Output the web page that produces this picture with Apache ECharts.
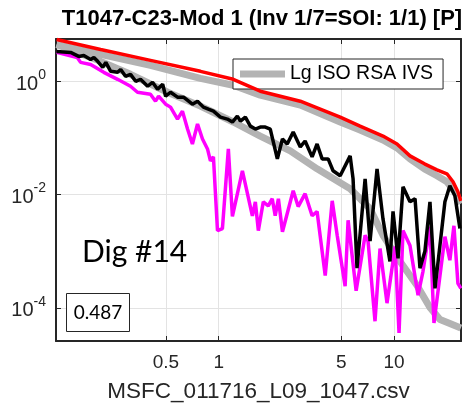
<!DOCTYPE html>
<html><head><meta charset="utf-8">
<script src="https://cdn.jsdelivr.net/npm/echarts@6/dist/echarts.min.js"></script>
<style>html,body{margin:0;padding:0;background:#fff}#c{width:462px;height:408px}</style>
</head><body><div id="c"></div>
<script>
const titleText = 'T1047-C23-Mod 1 (Inv 1/7=SOI: 1/1) [P]';
const xName = 'MSFC_011716_L09_1047.csv';
const legendName = 'Lg ISO RSA IVS';
const xTicks = [0.5, 1, 5, 10];
const yTicks = [1e-4, 1e-2, 1];

const redFreq = [0.119, 0.212, 0.408, 0.787, 1.21, 1.726, 2.92, 4.93, 6.40, 8.65, 10.40, 12.33, 14.92, 17.57, 20.03, 21.7, 23.14, 24.06];
const redVal  = [5.39, 3.60, 2.31, 1.48, 1.07, 0.660, 0.440, 0.231, 0.160, 0.107, 0.0775, 0.0478, 0.0346, 0.0271, 0.0231, 0.0167, 0.0111, 0.0077];

const upGrayFreq = [0.119, 0.212, 0.408, 0.787, 1.21, 1.726, 2.92, 4.93, 6.40, 8.65, 10.40, 12.33, 14.92, 17.57, 20.03, 22.24, 24.06];
const upGrayVal  = [4.40, 2.94, 1.88, 1.11, 0.841, 0.561, 0.375, 0.189, 0.136, 0.0912, 0.066, 0.0423, 0.0282, 0.0213, 0.0167, 0.0111, 0.0069];

const loGrayFreq = [0.119, 0.212, 0.314, 0.511, 0.787, 1.21, 1.726, 2.56, 3.64, 5.62, 7.30, 8.65, 10.8, 13.5, 16.03, 18.28, 20.82, 24.06];
const loGrayVal  = [4.40, 2.22, 1.31, 0.633, 0.360, 0.189, 0.107, 0.0584, 0.0282, 0.0126, 0.0056, 0.0019, 0.00066, 0.00025, 0.000101, 0.0000624, 0.0000531, 0.000044];

const blackFreq = [0.119, 0.143, 0.159, 0.170, 0.186, 0.194, 0.204, 0.218, 0.227, 0.242, 0.265, 0.276, 0.294, 0.314, 0.336, 0.358, 0.393, 0.419, 0.448, 0.479, 0.498, 0.531, 0.582, 0.630, 0.708, 0.757, 0.818, 0.873, 0.933, 1.023, 1.12, 1.197, 1.277, 1.33, 1.419, 1.515, 1.618, 1.726, 1.844, 1.968, 2.16, 2.31, 2.46, 2.66, 2.92, 3.11, 3.41, 3.64, 3.89, 4.21, 4.49, 4.93, 5.62, 5.84, 6.15, 6.84, 7.30, 8.00, 8.65, 9.48, 9.87, 10.54, 11.25, 12.33, 13.18, 14.06, 15.0, 16.03, 17.13, 18.28, 19.51, 20.82, 22.24, 23.76];
const blackVal  = [3.32, 3.19, 2.71, 2.82, 2.40, 2.60, 2.22, 1.74, 2.13, 1.48, 1.42, 1.60, 1.21, 1.31, 0.988, 1.07, 0.807, 0.948, 0.715, 0.875, 0.539, 0.633, 0.518, 0.518, 0.390, 0.440, 0.346, 0.319, 0.294, 0.231, 0.213, 0.189, 0.240, 0.196, 0.231, 0.160, 0.142, 0.154, 0.154, 0.142, 0.0423, 0.095, 0.0775, 0.126, 0.0687, 0.0875, 0.0459, 0.0775, 0.0423, 0.0423, 0.0261, 0.0213, 0.0478, 0.0188, 0.00050, 0.0188, 0.0015, 0.0282, 0.0037, 0.00066, 0.0050, 0.000745, 0.0136, 0.0074, 0.0084, 0.00050, 0.00099, 0.0074, 0.00022, 0.00126, 0.0074, 0.0142, 0.0095, 0.0025];

const magFreq = [0.119, 0.156, 0.163, 0.186, 0.221, 0.265, 0.314, 0.344, 0.408, 0.436, 0.454, 0.498, 0.531, 0.582, 0.621, 0.664, 0.708, 0.757, 0.808, 0.863, 0.897, 0.933, 0.984, 1.05, 1.135, 1.197, 1.365, 1.556, 1.618, 1.683, 1.796, 1.918, 2.02, 2.10, 2.19, 2.31, 2.66, 2.84, 3.11, 3.41, 3.64, 4.05, 4.44, 4.74, 5.26, 5.47, 6.08, 6.84, 7.11, 7.79, 8.32, 9.12, 10.14, 10.68, 11.25, 12.33, 13.71, 14.63, 16.03, 16.90, 19.51, 20.82, 21.96, 23.14, 24.06];
const magVal  = [3.19, 2.60, 2.13, 1.96, 1.42, 1.07, 0.807, 0.633, 0.584, 0.440, 0.539, 0.390, 0.346, 0.213, 0.294, 0.142, 0.0775, 0.174, 0.095, 0.0634, 0.039, 0.0459, 0.0023, 0.0025, 0.0634, 0.0041, 0.0261, 0.0042, 0.0074, 0.0023, 0.0074, 0.0063, 0.0084, 0.0042, 0.0084, 0.0022, 0.0116, 0.0061, 0.0103, 0.0042, 0.0050, 0.00037, 0.0077, 0.0019, 0.00024, 0.0035, 0.00020, 0.0019, 0.0015, 0.000058, 0.00111, 0.000121, 0.00121, 0.000036, 0.0023, 0.00126, 0.000167, 0.00044, 0.0027, 0.000054, 0.0018, 0.00069, 0.0028, 0.00027, 0.00022];

const pairs = (f, v) => f.map((x, i) => [x, v[i]]);
const axisColor = '#262626';
const gridColor = '#e3e3e3';
const font = 'Liberation Sans, Arial, sans-serif';

const chart = echarts.init(document.getElementById('c'), null, {renderer: 'canvas'});
const baseX = {
  type: 'log', logBase: 10, min: 0.118, max: 24.1,
  axisLine: {show: true, lineStyle: {color: axisColor, width: 2}},
  axisTick: {show: true, inside: true, length: 5, customValues: xTicks, lineStyle: {color: axisColor, width: 1}},
  minorTick: {show: false}, minorSplitLine: {show: false}
};
const baseY = {
  type: 'log', logBase: 10, min: 2.6e-5, max: 5.5,
  axisLine: {show: true, lineStyle: {color: axisColor, width: 2}},
  axisTick: {show: true, inside: true, length: 5, customValues: yTicks, lineStyle: {color: axisColor, width: 1}},
  minorTick: {show: false}, minorSplitLine: {show: false}
};
const option = {
  animation: false,
  backgroundColor: '#fff',
  title: {
    text: titleText, left: 257, top: 3, textAlign: 'center',
    textStyle: {fontFamily: font, fontWeight: 'bold', fontSize: 22, color: '#000'}
  },
  grid: {left: 56, right: 1, top: 39, bottom: 65},
  legend: {
    data: [{name: legendName, icon: 'rect'}],
    left: 233, top: 59, orient: 'vertical',
    itemWidth: 45, itemHeight: 7, itemGap: 0,
    padding: [5, 10, 5, 7],
    backgroundColor: '#fff', borderColor: axisColor, borderWidth: 1,
    textStyle: {fontFamily: font, fontSize: 19.5, color: '#000'},
    selectedMode: false
  },
  xAxis: [
    Object.assign({}, baseX, {
      position: 'bottom',
      name: xName, nameLocation: 'middle', nameGap: 39,
      nameTextStyle: {fontFamily: font, fontSize: 22.5, color: axisColor},
      axisLabel: {show: true, customValues: xTicks, margin: 12, fontFamily: font, fontSize: 19, color: axisColor,
        formatter: v => String(v)},
      splitLine: {show: true, lineStyle: {color: gridColor, width: 1}}
    }),
    Object.assign({}, baseX, {
      position: 'top', axisLabel: {show: false}, splitLine: {show: false}
    })
  ],
  yAxis: [
    Object.assign({}, baseY, {
      position: 'left',
      axisLabel: {show: true, customValues: yTicks, margin: 10, color: axisColor,
        formatter: v => '{b|10}{s|' + Math.round(Math.log10(v)) + '}',
        rich: {
          b: {fontFamily: font, fontSize: 20, color: axisColor, lineHeight: 26, verticalAlign: 'bottom'},
          s: {fontFamily: font, fontSize: 14, color: axisColor, lineHeight: 26, verticalAlign: 'top', padding: [0, 0, 0, 0]}
        }},
      splitLine: {show: true, lineStyle: {color: gridColor, width: 1}}
    }),
    Object.assign({}, baseY, {
      position: 'right', axisLabel: {show: false}, splitLine: {show: false}
    })
  ],
  series: [
    {name: legendName, type: 'line', data: pairs(upGrayFreq, upGrayVal), showSymbol: false, symbol: 'none',
      lineStyle: {color: '#b3b3b3', width: 7}, itemStyle: {color: '#b3b3b3'}, z: 2},
    {name: legendName, type: 'line', data: pairs(loGrayFreq, loGrayVal), showSymbol: false, symbol: 'none',
      lineStyle: {color: '#b3b3b3', width: 7}, itemStyle: {color: '#b3b3b3'}, z: 2},
    {name: 'mag', type: 'line', data: pairs(magFreq, magVal), showSymbol: false, symbol: 'none',
      lineStyle: {color: '#ff00ff', width: 3.5}, itemStyle: {color: '#ff00ff'}, z: 3},
    {name: 'blk', type: 'line', data: pairs(blackFreq, blackVal), showSymbol: false, symbol: 'none',
      lineStyle: {color: '#000000', width: 3.5}, itemStyle: {color: '#000'}, z: 4},
    {name: 'red', type: 'line', data: pairs(redFreq, redVal), showSymbol: false, symbol: 'none',
      lineStyle: {color: '#ff0000', width: 3.5}, itemStyle: {color: '#ff0000'}, z: 5}
  ],
  graphic: [
    {type: 'text', x: 82, y: 252, z: 100,
      style: {text: 'Dig #14', font: '30px Lato, sans-serif', fill: '#000', textAlign: 'left', textVerticalAlign: 'middle'}},
    {type: 'rect', shape: {x: 66.5, y: 293.5, width: 63, height: 38}, z: 100,
      style: {fill: '#fff', stroke: axisColor, lineWidth: 1}},
    {type: 'text', x: 98, y: 313, z: 101,
      style: {text: '0.487', font: '19px Lato, sans-serif', fill: '#000', textAlign: 'center', textVerticalAlign: 'middle'}}
  ]
};
chart.setOption(option);
</script>
</body></html>
